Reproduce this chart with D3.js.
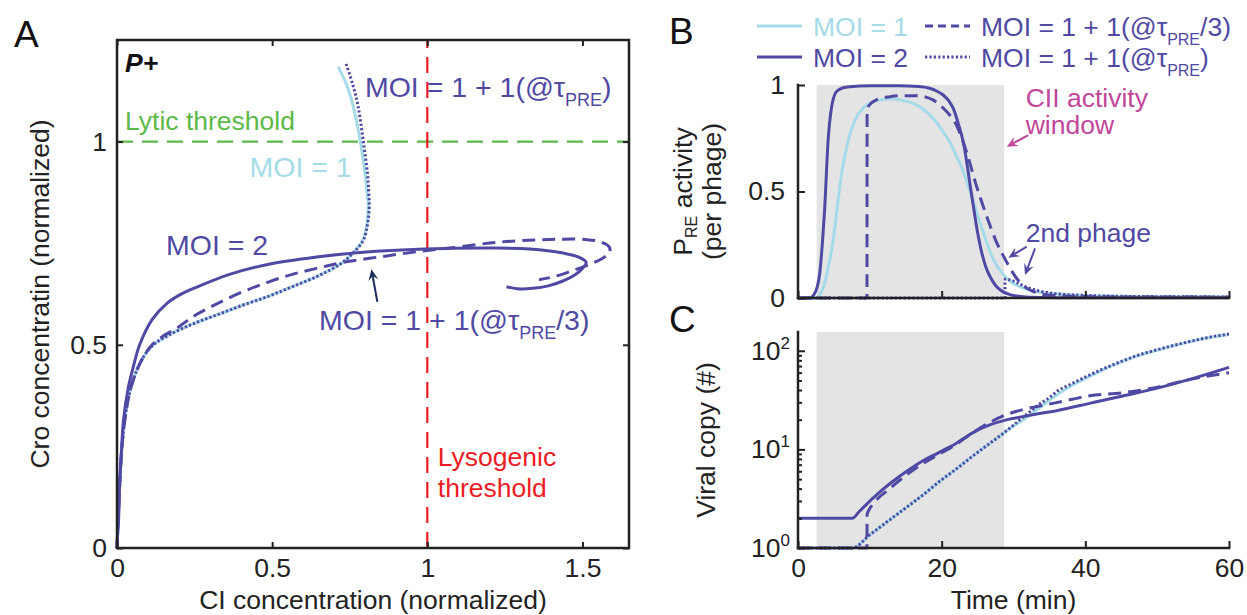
<!DOCTYPE html>
<html><head><meta charset="utf-8">
<script src="https://cdn.jsdelivr.net/npm/d3@7"></script>
<style>
html,body{margin:0;padding:0;background:#fff;}
svg{display:block;font-family:"Liberation Sans",Arial,Helvetica,sans-serif;}
</style></head><body>
<svg id="fig" width="1247" height="615"></svg>
<script>
// ---------- data ----------
// Panel A: phase trajectories, [CI, Cro] (normalized)
const phaseMoi1 = [[0,0],[0.004,0.07],[0.009,0.16],[0.016,0.25],[0.026,0.32],[0.04,0.38],[0.06,0.43],[0.085,0.47],[0.117,0.5],[0.17,0.525],[0.24,0.55],[0.32,0.573],[0.407,0.598],[0.49,0.62],[0.568,0.644],[0.65,0.67],[0.72,0.699],[0.761,0.726],[0.793,0.759],[0.806,0.80],[0.81,0.841],[0.805,0.88],[0.799,0.923],[0.783,1.005],[0.761,1.087],[0.74,1.14],[0.713,1.184]];
const phaseLate = [[0,0],[0.004,0.07],[0.009,0.16],[0.016,0.25],[0.026,0.32],[0.04,0.38],[0.06,0.43],[0.085,0.47],[0.117,0.5],[0.17,0.525],[0.24,0.55],[0.32,0.573],[0.407,0.598],[0.49,0.62],[0.568,0.644],[0.65,0.67],[0.72,0.699],[0.761,0.726],[0.795,0.759],[0.808,0.80],[0.813,0.841],[0.811,0.88],[0.807,0.923],[0.793,1.005],[0.777,1.087],[0.76,1.14],[0.737,1.194]];
const phaseThird = [[0,0],[0.004,0.07],[0.009,0.16],[0.016,0.25],[0.026,0.32],[0.04,0.38],[0.06,0.43],[0.085,0.47],[0.113,0.5],[0.15,0.522],[0.193,0.541],[0.246,0.570],[0.32,0.60],[0.407,0.631],[0.49,0.655],[0.568,0.674],[0.643,0.688],[0.729,0.703],[0.858,0.7175],[0.987,0.731],[1.072,0.738],[1.222,0.752],[1.35,0.758],[1.437,0.760],[1.51,0.759],[1.555,0.754],[1.585,0.742],[1.588,0.728],[1.565,0.713],[1.52,0.697],[1.459,0.68],[1.41,0.668],[1.36,0.66]];
const phaseMoi2 = [[0,0],[0.002,0.035],[0.005,0.069],[0.008,0.151],[0.014,0.233],[0.021,0.315],[0.037,0.397],[0.054,0.45],[0.073,0.5],[0.113,0.562],[0.161,0.602],[0.205,0.624],[0.257,0.642],[0.365,0.674],[0.493,0.699],[0.643,0.716],[0.793,0.728],[0.992,0.7357],[1.2,0.738],[1.33,0.736],[1.437,0.726],[1.49,0.715],[1.512,0.703],[1.50,0.688],[1.475,0.672],[1.437,0.657],[1.39,0.645],[1.34,0.639],[1.29,0.638],[1.255,0.643]];

// Panel B: PRE activity per phage, [time (min), activity]
const preMoi1 = [[0,0],[2.4,0],[3.0,0.015],[3.48,0.047],[4.2,0.14],[4.87,0.265],[5.45,0.42],[6.04,0.578],[6.6,0.68],[7.2,0.766],[8.0,0.84],[9.05,0.891],[10.2,0.918],[11.4,0.93],[12.8,0.934],[14.4,0.929],[16.0,0.914],[17.5,0.885],[18.8,0.844],[20.0,0.79],[21.1,0.734],[22.0,0.67],[23.0,0.594],[24.4,0.453],[25.75,0.312],[27.1,0.188],[29.0,0.094],[31.3,0.047],[33.5,0.028],[36,0.019],[40,0.012],[45,0.008],[52,0.006],[60,0.005]];
const preMoi2 = [[0,0],[1.6,0],[2.3,0.02],[3.0,0.109],[3.4,0.26],[3.72,0.422],[4.18,0.734],[4.65,0.891],[5.35,0.969],[6.2,0.986],[7.2,0.992],[10,0.996],[14,0.996],[16.8,0.993],[18.3,0.985],[19.3,0.972],[20.2,0.953],[21.0,0.925],[21.6,0.891],[22.3,0.82],[23.0,0.734],[24.1,0.50],[25.06,0.297],[25.6,0.21],[26.2,0.141],[26.9,0.09],[27.6,0.055],[28.5,0.03],[29.5,0.016],[31,0.007],[32.3,0.003],[36,0.001],[60,0.001]];
const preThird = [[0,0],[9.6,0],[9.62,0.885],[10.2,0.915],[10.9,0.93],[12.8,0.945],[14.5,0.95],[16.5,0.95],[17.8,0.943],[18.8,0.93],[19.8,0.905],[20.7,0.875],[22.05,0.812],[23.45,0.687],[24.8,0.531],[26.2,0.39],[27.6,0.265],[29.0,0.172],[30.4,0.094],[31.5,0.055],[32.7,0.031],[34,0.018],[36,0.011],[40,0.007],[45,0.005],[60,0.004]];
const preLate = [[0,0],[28.8,0],[28.83,0.088],[29.5,0.085],[30.4,0.074],[31.3,0.058],[32.3,0.045],[34,0.03],[36,0.02],[40,0.012],[45,0.008],[52,0.006],[60,0.005]];

// Panel C: viral copy number, [time (min), copies]
const copyMoi1 = [[0,1],[7.57,1],[10,1.36],[12.77,1.93],[15,2.55],[17.5,3.5],[19.73,4.75],[22,6.3],[24.36,8.6],[26.7,11.5],[28.87,15.1],[30,17.3],[31.3,19.8],[32.5,23],[33.65,26.5],[35,31.5],[36,35.5],[38,44],[40.6,55],[43,67],[45.2,78],[47.5,90],[49.9,101],[52,111],[54.5,123],[57,135],[60,146]];
const copyLate = [[0,1],[7.57,1],[10,1.36],[12.77,1.93],[15,2.55],[17.5,3.5],[19.73,4.75],[22,6.3],[24.36,8.6],[26.7,11.5],[28.87,15.1],[30,17.6],[31.3,21.2],[32.5,24.8],[33.65,28.9],[35,33.5],[36,38.5],[38,46],[40.6,56.8],[43,68],[45.2,79],[47.5,91],[49.9,102],[52,112],[54.5,124],[57,136],[60,148]];
const copyMoi2 = [[0,2],[7.57,2],[8.5,2.33],[10.44,3.21],[12.77,4.48],[15.09,5.97],[17.4,7.66],[19.73,9.37],[22.05,11.56],[24.36,14.8],[26.69,17.7],[29.0,19.9],[31.3,21.5],[33.6,23.1],[36.0,24.7],[40.6,29.3],[45.2,34.8],[49.9,41.6],[54.5,51.3],[60,68]];
const copyThird = [[0,1],[9.6,1],[9.62,2.2],[10.5,2.8],[12.77,4.0],[15.09,5.5],[17.4,7.2],[19.73,9.0],[22.05,11.3],[24.36,14.8],[26.7,18.8],[29,22.5],[31.3,25.3],[33.6,27.5],[36,29.8],[38,32],[40.6,35],[45.2,37.5],[49.9,42.5],[54.5,51],[60,60]];

// thresholds, window and ticks
const LYTIC_THRESHOLD = 1;
const LYSO_THRESHOLD = 1;
const CII_WINDOW = [2.6, 28.7];
const CI_TICKS = [0, 0.5, 1, 1.5];
const CRO_TICKS = [0, 0.5, 1];
const TIME_TICKS = [0, 20, 40, 60];
const PRE_TICKS = [0, 0.5, 1];
const COPY_TICKS = [1, 10, 100];
const COPY_MINOR = [2,3,4,5,6,7,8,9,20,30,40,50,60,70,80,90];

// ---------- style ----------
const PURPLE = "#5049a3", LIGHT = "#a5dbe8", AXIS = "#222";
const GREEN = "#5cb947", RED = "#ec1c24", MAGENTA = "#c1479b", NAVY = "#1c2d5c";
const FS = 26.5, SUB = 17;
const STYLE = {
  moi1: {color: LIGHT, dash: null},
  moi2: {color: PURPLE, dash: null},
  third: {color: PURPLE, dash: "13,7"},
  late: {color: PURPLE, dash: "2.2,2.2"}
};

const svg = d3.select("#fig");

function drawSeries(g, data, key, x, y, curve) {
  const s = STYLE[key];
  g.append("path")
    .attr("d", d3.line().x(d => x(d[0])).y(d => y(d[1])).curve(curve)(data))
    .attr("fill", "none").attr("stroke", s.color).attr("stroke-width", 3)
    .attr("stroke-dasharray", s.dash).attr("stroke-linejoin", "round");
}

function styleAxis(sel) {
  sel.select(".domain").remove();
  sel.selectAll(".tick line").attr("stroke", AXIS).attr("stroke-width", 2);
  sel.selectAll(".tick text").attr("fill", AXIS).attr("font-size", FS)
    .attr("font-family", '"Liberation Sans",Arial,sans-serif');
  sel.attr("font-size", FS).attr("font-family", null);
}

function richText(g, x, y, parts, color, size, subSize) {
  const fs = size || FS, ss = subSize || SUB;
  const t = g.append("text").attr("x", x).attr("y", y).attr("fill", color).attr("font-size", fs);
  let shifted = false;
  parts.forEach(p => {
    const ts = t.append("tspan").text(p.t);
    if (p.sub) { ts.attr("font-size", ss).attr("dy", 9); shifted = true; }
    else if (shifted) { ts.attr("dy", -9); shifted = false; }
  });
  return t;
}

function arrow(g, x1, y1, x2, y2, color) {
  const ang = Math.atan2(y2 - y1, x2 - x1);
  const L = 11, Wd = 5, notch = 7;
  const bx = x2 - notch * Math.cos(ang), by = y2 - notch * Math.sin(ang);
  g.append("line").attr("x1", x1).attr("y1", y1).attr("x2", bx).attr("y2", by)
    .attr("stroke", color).attr("stroke-width", 2);
  const px = -Math.sin(ang), py = Math.cos(ang);
  const hx = x2 - L * Math.cos(ang), hy = y2 - L * Math.sin(ang);
  const pts = [[x2, y2], [hx + Wd * px, hy + Wd * py], [bx, by], [hx - Wd * px, hy - Wd * py]];
  g.append("polygon").attr("points", pts.map(p => p.join(",")).join(" ")).attr("fill", color);
}

function axisLine(g, x1, y1, x2, y2) {
  g.append("line").attr("x1", x1).attr("y1", y1).attr("x2", x2).attr("y2", y2)
    .attr("stroke", AXIS).attr("stroke-width", 2.5).attr("stroke-linecap", "square");
}

// ---------- panel A ----------
const xA = d3.scaleLinear().domain([0, 1.65]).range([117, 629]);
const yA = d3.scaleLinear().domain([0, 1.25]).range([548, 40]);
const gA = svg.append("g");

gA.append("line").attr("x1", xA(0)).attr("x2", xA(1.65)).attr("y1", yA(LYTIC_THRESHOLD)).attr("y2", yA(LYTIC_THRESHOLD))
  .attr("stroke", GREEN).attr("stroke-width", 2.2).attr("stroke-dasharray", "16,9");
gA.append("line").attr("x1", xA(LYSO_THRESHOLD)).attr("x2", xA(LYSO_THRESHOLD)).attr("y1", yA(0)).attr("y2", yA(1.25))
  .attr("stroke", RED).attr("stroke-width", 2.2).attr("stroke-dasharray", "16,9");

const cr = d3.curveCatmullRom.alpha(0.5);
drawSeries(gA, phaseMoi1, "moi1", xA, yA, cr);
drawSeries(gA, phaseLate, "late", xA, yA, cr);
drawSeries(gA, phaseThird, "third", xA, yA, cr);
drawSeries(gA, phaseMoi2, "moi2", xA, yA, cr);

gA.append("g").attr("transform", `translate(0,${yA(0)})`)
  .call(d3.axisBottom(xA).tickValues(CI_TICKS).tickSizeInner(-6).tickSizeOuter(0).tickPadding(10).tickFormat(d => String(d)))
  .call(styleAxis);
gA.append("g").attr("transform", `translate(${xA(0)},0)`)
  .call(d3.axisLeft(yA).tickValues(CRO_TICKS).tickSizeInner(-6).tickSizeOuter(0).tickPadding(10).tickFormat(d => String(d)))
  .call(styleAxis);
gA.append("g").attr("transform", `translate(0,${yA(1.25)})`)
  .call(d3.axisTop(xA).tickValues(CI_TICKS).tickSizeInner(-6).tickSizeOuter(0).tickFormat(""))
  .call(styleAxis);
gA.append("g").attr("transform", `translate(${xA(1.65)},0)`)
  .call(d3.axisRight(yA).tickValues(CRO_TICKS).tickSizeInner(-6).tickSizeOuter(0).tickFormat(""))
  .call(styleAxis);
gA.append("rect").attr("x", xA(0)).attr("y", yA(1.25)).attr("width", xA(1.65) - xA(0)).attr("height", yA(0) - yA(1.25))
  .attr("fill", "none").attr("stroke", AXIS).attr("stroke-width", 2.5);

gA.append("text").attr("x", xA(0.026)).attr("y", yA(1.171)).attr("font-size", FS).attr("font-weight", "bold")
  .attr("font-style", "italic").attr("fill", "#111").text("P+");
richText(gA, xA(0.799), yA(1.11), [{t: "MOI = 1 + 1(@τ"}, {t: "PRE", sub: true}, {t: ")"}], PURPLE, 28.5, 18);
gA.append("text").attr("x", xA(0.026)).attr("y", yA(1.029)).attr("font-size", FS).attr("fill", GREEN).text("Lytic threshold");
gA.append("text").attr("x", xA(0.427)).attr("y", yA(0.914)).attr("font-size", 28.5).attr("fill", LIGHT).text("MOI = 1");
gA.append("text").attr("x", xA(0.158)).attr("y", yA(0.721)).attr("font-size", 28.5).attr("fill", PURPLE).text("MOI = 2");
richText(gA, xA(0.651), yA(0.536), [{t: "MOI = 1 + 1(@τ"}, {t: "PRE", sub: true}, {t: "/3)"}], PURPLE, 28.5, 18);
gA.append("text").attr("x", xA(1.034)).attr("y", yA(0.202)).attr("font-size", FS).attr("fill", RED).text("Lysogenic");
gA.append("text").attr("x", xA(1.034)).attr("y", yA(0.125)).attr("font-size", FS).attr("fill", RED).text("threshold");
arrow(gA, xA(0.839), yA(0.606), xA(0.820), yA(0.686), NAVY);

gA.append("text").attr("x", (xA(0) + xA(1.65)) / 2).attr("y", 609).attr("text-anchor", "middle")
  .attr("font-size", FS).attr("fill", AXIS).text("CI concentration (normalized)");
gA.append("text").attr("transform", `translate(48.5,${(yA(0) + yA(1.25)) / 2}) rotate(-90)`).attr("text-anchor", "middle")
  .attr("font-size", FS).attr("fill", AXIS).text("Cro concentratin (normalized)");
svg.append("text").attr("x", 14).attr("y", 47).attr("font-size", 37).attr("fill", "#111").text("A");

// ---------- panel B ----------
const xT = d3.scaleLinear().domain([0, 60]).range([798, 1229]);
const yB = d3.scaleLinear().domain([0, 1]).range([298, 85]);
const gB = svg.append("g");
gB.append("rect").attr("x", xT(CII_WINDOW[0])).attr("y", yB(1)).attr("width", xT(CII_WINDOW[1]) - xT(CII_WINDOW[0]))
  .attr("height", yB(0) - yB(1)).attr("fill", "#e4e4e4");
const mx = d3.curveMonotoneX;
drawSeries(gB, preMoi1, "moi1", xT, yB, mx);
drawSeries(gB, preMoi2, "moi2", xT, yB, mx);
drawSeries(gB, preThird, "third", xT, yB, mx);
drawSeries(gB, preLate, "late", xT, yB, mx);
gB.append("g").attr("transform", `translate(0,${yB(0)})`)
  .call(d3.axisBottom(xT).tickValues(TIME_TICKS).tickSizeInner(-7).tickSizeOuter(0).tickFormat(""))
  .call(styleAxis);
gB.append("g").attr("transform", `translate(${xT(0)},0)`)
  .call(d3.axisLeft(yB).tickValues(PRE_TICKS).tickSizeInner(-7).tickSizeOuter(0).tickPadding(13).tickFormat(d => String(d)))
  .call(styleAxis);
axisLine(gB, xT(0), yB(0), xT(60), yB(0));
axisLine(gB, xT(0), yB(0), xT(0), yB(1));

gB.append("text").attr("x", xT(31.7)).attr("y", yB(0.898)).attr("font-size", FS).attr("fill", MAGENTA).text("CII activity");
gB.append("text").attr("x", xT(31.7)).attr("y", yB(0.769)).attr("font-size", FS).attr("fill", MAGENTA).text("window");
arrow(gB, xT(32.06), yB(0.765), xT(29.06), yB(0.71), MAGENTA);
gB.append("text").attr("x", xT(31.7)).attr("y", yB(0.264)).attr("font-size", FS).attr("fill", PURPLE).text("2nd phage");
arrow(gB, xT(31.84), yB(0.241), xT(29.28), yB(0.189), PURPLE);
arrow(gB, xT(33.0), yB(0.233), xT(31.6), yB(0.108), PURPLE);

const yTitle = gB.append("text").attr("transform", `translate(692,${(yB(0) + yB(1)) / 2}) rotate(-90)`)
  .attr("text-anchor", "middle").attr("font-size", FS).attr("fill", AXIS);
yTitle.append("tspan").text("P");
yTitle.append("tspan").attr("font-size", 16).attr("dy", 5).text("RE");
yTitle.append("tspan").attr("dy", -5).text(" activity");
gB.append("text").attr("transform", `translate(721,${(yB(0) + yB(1)) / 2}) rotate(-90)`)
  .attr("text-anchor", "middle").attr("font-size", FS).attr("fill", AXIS).text("(per phage)");
svg.append("text").attr("x", 669).attr("y", 44).attr("font-size", 37).attr("fill", "#111").text("B");

// legend
const legend = [
  {key: "moi1", parts: [{t: "MOI = 1"}], color: LIGHT, col: 0, row: 0},
  {key: "third", parts: [{t: "MOI = 1 + 1(@τ"}, {t: "PRE", sub: true}, {t: "/3)"}], color: PURPLE, col: 1, row: 0},
  {key: "moi2", parts: [{t: "MOI = 2"}], color: PURPLE, col: 0, row: 1},
  {key: "late", parts: [{t: "MOI = 1 + 1(@τ"}, {t: "PRE", sub: true}, {t: ")"}], color: PURPLE, col: 1, row: 1}
];
const legX = [757, 925], legY = [26, 57];
const gL = svg.append("g");
legend.forEach(e => {
  const s = STYLE[e.key];
  const lx = legX[e.col], ly = legY[e.row];
  gL.append("line").attr("x1", lx).attr("x2", lx + 45).attr("y1", ly).attr("y2", ly)
    .attr("stroke", s.color).attr("stroke-width", 3)
    .attr("stroke-dasharray", e.key === "third" ? "8,5" : s.dash);
  richText(gL, lx + 56, ly + 9.5, e.parts, e.color, 26.5, 16);
});

// ---------- panel C ----------
const yC = d3.scaleLog().domain([1, 155]).range([548, 332]);
const gC = svg.append("g");
gC.append("rect").attr("x", xT(CII_WINDOW[0])).attr("y", yC(155)).attr("width", xT(CII_WINDOW[1]) - xT(CII_WINDOW[0]))
  .attr("height", yC(1) - yC(155)).attr("fill", "#e4e4e4");
drawSeries(gC, copyMoi1, "moi1", xT, yC, mx);
drawSeries(gC, copyLate, "late", xT, yC, mx);
drawSeries(gC, copyThird, "third", xT, yC, mx);
drawSeries(gC, copyMoi2, "moi2", xT, yC, mx);
gC.append("g").attr("transform", `translate(0,${yC(1)})`)
  .call(d3.axisBottom(xT).tickValues(TIME_TICKS).tickSizeInner(-7).tickSizeOuter(0).tickPadding(10).tickFormat(d => String(d)))
  .call(styleAxis);
gC.append("g").attr("transform", `translate(${xT(0)},0)`)
  .call(d3.axisLeft(yC).tickValues(COPY_MINOR).tickSizeInner(-4).tickSizeOuter(0).tickFormat(""))
  .call(styleAxis);
const yAxC = gC.append("g").attr("transform", `translate(${xT(0)},0)`)
  .call(d3.axisLeft(yC).tickValues(COPY_TICKS).tickSizeInner(-7).tickSizeOuter(0).tickPadding(8).tickFormat(""))
  .call(styleAxis);
yAxC.selectAll(".tick text").each(function(d) {
  const t = d3.select(this);
  t.append("tspan").text("10");
  t.append("tspan").attr("font-size", SUB).attr("dy", -11).text(String(Math.round(Math.log10(d))));
});
axisLine(gC, xT(0), yC(1), xT(60), yC(1));
axisLine(gC, xT(0), yC(1), xT(0), yC(155));

gC.append("text").attr("x", (xT(0) + xT(60)) / 2).attr("y", 609).attr("text-anchor", "middle")
  .attr("font-size", FS).attr("fill", AXIS).text("Time (min)");
gC.append("text").attr("transform", `translate(715,${(yC(1) + yC(155)) / 2}) rotate(-90)`).attr("text-anchor", "middle")
  .attr("font-size", FS).attr("fill", AXIS).text("Viral copy (#)");
svg.append("text").attr("x", 669).attr("y", 332).attr("font-size", 37).attr("fill", "#111").text("C");
</script></body></html>
